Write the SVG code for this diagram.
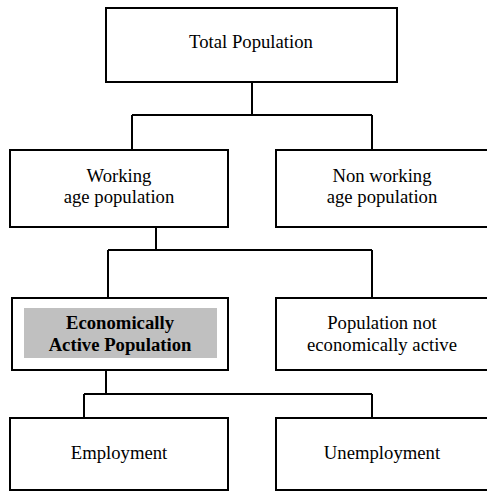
<svg xmlns="http://www.w3.org/2000/svg" width="487" height="491" viewBox="0 0 487 491">
<style>
.box{fill:#ffffff;stroke:#000000;stroke-width:2}
.con{fill:none;stroke:#000000;stroke-width:2}
.t{font-family:"Liberation Serif","Times New Roman",serif;font-size:18.7px;fill:#000000;text-anchor:middle}
.b{font-weight:bold}
</style>
<rect width="487" height="491" fill="#ffffff"/>
<g id="connectors">
<path class="con" d="M252,82 V115 M132,115 H372 M132,115 V150 M372,115 V150"/>
<path class="con" d="M156,227 V250 M108,250 H372 M108,250 V298 M372,250 V298"/>
<path class="con" d="M106,370 V394 M84,394 H372 M84,394 V418 M372,394 V418"/>
</g>
<g id="total-population">
<rect class="box" x="106" y="8" width="291" height="74"/>
<text class="t" x="251" y="48">Total Population</text>
</g>
<g id="working-age-population">
<rect class="box" x="10" y="150" width="218" height="77"/>
<text class="t" x="119" y="182">Working</text>
<text class="t" x="119" y="203">age population</text>
</g>
<g id="non-working-age-population">
<rect class="box" x="276" y="150" width="220" height="77"/>
<text class="t" x="382" y="182">Non working</text>
<text class="t" x="382" y="203">age population</text>
</g>
<g id="economically-active-population">
<rect class="box" x="12" y="298" width="216" height="72"/>
<rect x="24" y="308" width="193" height="50" fill="#c0c0c0"/>
<text class="t b" x="120" y="329">Economically</text>
<text class="t b" x="120" y="351">Active Population</text>
</g>
<g id="population-not-economically-active">
<rect class="box" x="276" y="298" width="220" height="72"/>
<text class="t" x="382" y="329">Population not</text>
<text class="t" x="382" y="351">economically active</text>
</g>
<g id="employment">
<rect class="box" x="10" y="418" width="218" height="72"/>
<text class="t" x="119" y="459">Employment</text>
</g>
<g id="unemployment">
<rect class="box" x="276" y="418" width="220" height="72"/>
<text class="t" x="382" y="459">Unemployment</text>
</g>
</svg>
